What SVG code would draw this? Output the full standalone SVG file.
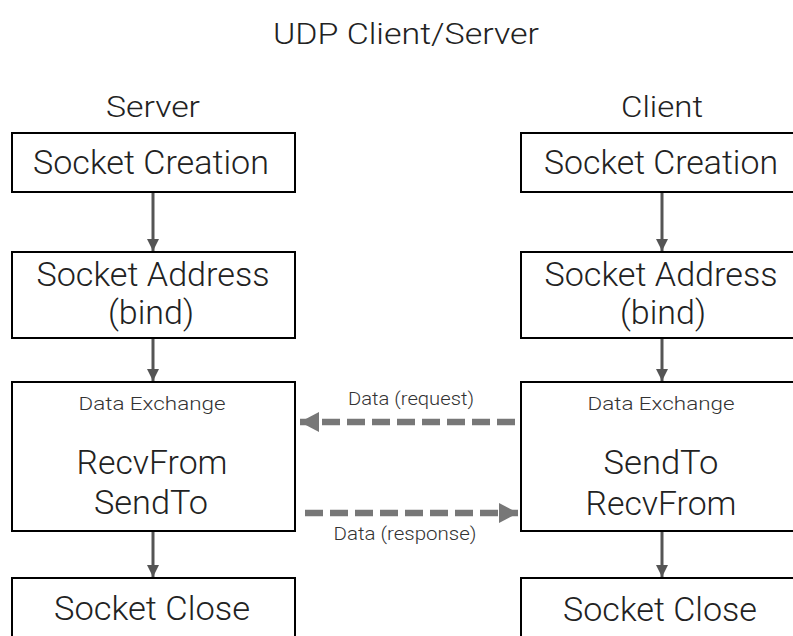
<svg xmlns="http://www.w3.org/2000/svg" width="793" height="636" viewBox="0 0 793 636">
<defs>
<style>
text{font-family:"Roboto Light",Roboto,"Liberation Sans",sans-serif;font-weight:300;fill:#222;text-anchor:middle}
.box{fill:#fff;stroke:#000;stroke-width:2}
.big{font-size:33px}
.hd{font-size:30px}
.sm{font-size:18px;fill:#333}
.flow{stroke:#555;stroke-width:3;fill:none}
.dash{stroke:#777;stroke-width:6.5;stroke-dasharray:18 7;fill:none}
</style>
<marker id="ah" markerWidth="12" markerHeight="12" refX="12" refY="6" orient="auto" markerUnits="userSpaceOnUse"><path d="M0,0 L12,6 L0,12 Z" fill="#555"/></marker>
<marker id="dh" markerWidth="20" markerHeight="20" refX="19" refY="10" orient="auto" markerUnits="userSpaceOnUse"><path d="M0,0 L19,10 L0,20 Z" fill="#777"/></marker>
</defs>
<text class="hd" x="406" y="44" font-size="32" textLength="266" lengthAdjust="spacingAndGlyphs">UDP Client/Server</text>
<text class="hd" x="153" y="117" textLength="94" lengthAdjust="spacingAndGlyphs">Server</text>
<text class="hd" x="662" y="117" textLength="82" lengthAdjust="spacingAndGlyphs">Client</text>
<g id="s-create"><rect class="box" x="12" y="133" width="283" height="59"/><text class="big" x="151" y="174" textLength="236" lengthAdjust="spacingAndGlyphs">Socket Creation</text></g>
<g id="s-addr"><rect class="box" x="12" y="252" width="283" height="86"/><text class="big" x="153" y="286" textLength="233" lengthAdjust="spacingAndGlyphs">Socket Address</text><text class="big" x="151" y="324" textLength="86" lengthAdjust="spacingAndGlyphs">(bind)</text></g>
<g id="s-data"><rect class="box" x="12" y="382" width="283" height="149"/><text class="sm" x="152" y="410" textLength="147" lengthAdjust="spacingAndGlyphs">Data Exchange</text><text class="big" x="152" y="474" textLength="151" lengthAdjust="spacingAndGlyphs">RecvFrom</text><text class="big" x="151" y="514" textLength="114" lengthAdjust="spacingAndGlyphs">SendTo</text></g>
<g id="s-close"><rect class="box" x="12" y="578" width="283" height="70"/><text class="big" x="152" y="620" textLength="196" lengthAdjust="spacingAndGlyphs">Socket Close</text></g>
<g id="c-create"><rect class="box" x="521" y="133" width="283" height="59"/><text class="big" x="661" y="174" textLength="234" lengthAdjust="spacingAndGlyphs">Socket Creation</text></g>
<g id="c-addr"><rect class="box" x="521" y="252" width="283" height="86"/><text class="big" x="661" y="286" textLength="233" lengthAdjust="spacingAndGlyphs">Socket Address</text><text class="big" x="663" y="324" textLength="86" lengthAdjust="spacingAndGlyphs">(bind)</text></g>
<g id="c-data"><rect class="box" x="521" y="382" width="283" height="149"/><text class="sm" x="661" y="410" textLength="147" lengthAdjust="spacingAndGlyphs">Data Exchange</text><text class="big" x="661" y="474" textLength="115" lengthAdjust="spacingAndGlyphs">SendTo</text><text class="big" x="661" y="515" textLength="151" lengthAdjust="spacingAndGlyphs">RecvFrom</text></g>
<g id="c-close"><rect class="box" x="521" y="578" width="283" height="70"/><text class="big" x="660" y="621" textLength="194" lengthAdjust="spacingAndGlyphs">Socket Close</text></g>
<g id="connectors">
<line class="flow" x1="153" y1="193" x2="153" y2="251" marker-end="url(#ah)"/>
<line class="flow" x1="153" y1="339" x2="153" y2="381" marker-end="url(#ah)"/>
<line class="flow" x1="153" y1="532" x2="153" y2="577" marker-end="url(#ah)"/>
<line class="flow" x1="662" y1="193" x2="662" y2="251" marker-end="url(#ah)"/>
<line class="flow" x1="662" y1="339" x2="662" y2="381" marker-end="url(#ah)"/>
<line class="flow" x1="662" y1="532" x2="662" y2="577" marker-end="url(#ah)"/>
<line class="dash" x1="515" y1="422" x2="300" y2="422" marker-end="url(#dh)"/>
<line class="dash" x1="305" y1="513" x2="518" y2="513" marker-end="url(#dh)"/>
<text class="sm" x="411" y="405" textLength="126" lengthAdjust="spacingAndGlyphs">Data (request)</text>
<text class="sm" x="405" y="540" textLength="143" lengthAdjust="spacingAndGlyphs">Data (response)</text>
</g>
</svg>
